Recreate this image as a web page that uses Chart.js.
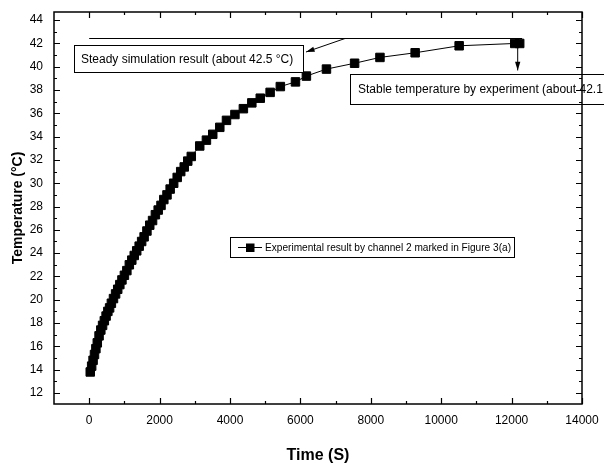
<!DOCTYPE html>
<html>
<head>
<meta charset="utf-8">
<script src="https://cdn.jsdelivr.net/npm/chart.js@4.4.1/dist/chart.umd.min.js"></script>
<style>
    html, body { margin: 0; padding: 0; background: #fff; }
    #wrap { position: relative; width: 604px; height: 473px; }
</style>
</head>
<body>
<div id="wrap"><canvas id="tempChart" width="604" height="473"></canvas></div>
<script>
// Datos
const timeS = [30, 70, 110, 150, 190, 230, 280, 330, 380, 430, 480, 530, 580, 630, 690, 750,
    810, 870, 930, 1000, 1070, 1140, 1210, 1280, 1350, 1420, 1490, 1560, 1640, 1720, 1800,
    1880, 1960, 2040, 2120, 2210, 2300, 2400, 2500, 2600, 2700, 2800, 2900,
    3140, 3330, 3510, 3710, 3900, 4140, 4380, 4620, 4860, 5140, 5430, 5860, 6170, 6740, 7540,
    8260, 9260, 10510, 12090, 12230];
const tempC = [13.8, 14.3, 14.8, 15.3, 15.8, 16.3, 16.9, 17.4, 17.8, 18.2, 18.6, 19.0, 19.3, 19.7, 20.1, 20.5,
    20.9, 21.3, 21.7, 22.1, 22.5, 23.0, 23.4, 23.8, 24.2, 24.6, 25.0, 25.4, 25.9, 26.4, 26.8,
    27.3, 27.7, 28.1, 28.6, 29.0, 29.5, 30.0, 30.5, 31.0, 31.4, 31.9, 32.3,
    33.2, 33.7, 34.2, 34.8, 35.4, 35.9, 36.4, 36.9, 37.3, 37.8, 38.3, 38.7, 39.2, 39.8, 40.3,
    40.8, 41.2, 41.8, 42.0, 42.0];

const xTickValues = [0, 2000, 4000, 6000, 8000, 10000, 12000, 14000];
const xMinorValues = [1000, 3000, 5000, 7000, 9000, 11000, 13000];
const yTickValues = [12, 14, 16, 18, 20, 22, 24, 26, 28, 30, 32, 34, 36, 38, 40, 42, 44];
const yMinorValues = [13, 15, 17, 19, 21, 23, 25, 27, 29, 31, 33, 35, 37, 39, 41, 43];

const steadySim = 42.5;
const steadyLineEnd = 12300;
const legendLabel = 'Experimental result by channel 2 marked in Figure 3(a)';
const noteSim = 'Steady simulation result (about 42.5 \u00B0C)';
const noteExp = 'Stable temperature by experiment (about 42.1 \u00B0C)';

const FONT = '"Liberation Sans", Arial, sans-serif';

function arrow(ctx, x1, y1, x2, y2) {
    const a = Math.atan2(y2 - y1, x2 - x1);
    ctx.beginPath();
    ctx.moveTo(x1, y1);
    ctx.lineTo(x2, y2);
    ctx.stroke();
    ctx.beginPath();
    ctx.moveTo(x2, y2);
    ctx.lineTo(x2 - 9 * Math.cos(a - 0.3), y2 - 9 * Math.sin(a - 0.3));
    ctx.lineTo(x2 - 9 * Math.cos(a + 0.3), y2 - 9 * Math.sin(a + 0.3));
    ctx.closePath();
    ctx.fill();
}

// Marco con marcas hacia dentro
const framePlugin = {
    id: 'frame',
    afterDraw(chart) {
        const ctx = chart.ctx;
        const a = chart.chartArea;
        const xs = chart.scales.x, ys = chart.scales.y;
        ctx.save();
        ctx.strokeStyle = '#000';
        ctx.lineWidth = 1.5;
        ctx.strokeRect(a.left, a.top, a.right - a.left, a.bottom - a.top);
        ctx.lineWidth = 1.2;
        ctx.beginPath();
        const xt = (vals, len) => vals.forEach(v => {
            const px = Math.round(xs.getPixelForValue(v)) + 0.5;
            ctx.moveTo(px, a.bottom); ctx.lineTo(px, a.bottom - len);
            ctx.moveTo(px, a.top); ctx.lineTo(px, a.top + len);
        });
        const yt = (vals, len) => vals.forEach(v => {
            const py = Math.round(ys.getPixelForValue(v)) + 0.5;
            ctx.moveTo(a.left, py); ctx.lineTo(a.left + len, py);
            ctx.moveTo(a.right, py); ctx.lineTo(a.right - len, py);
        });
        xt(xTickValues, 6); xt(xMinorValues, 3);
        yt(yTickValues, 6); yt(yMinorValues, 3);
        ctx.stroke();
        ctx.restore();
    }
};

// Anotaciones y leyenda
const notesPlugin = {
    id: 'notes',
    afterDatasetsDraw(chart) {
        const ctx = chart.ctx;
        const xs = chart.scales.x, ys = chart.scales.y;
        ctx.save();
        ctx.strokeStyle = '#000';
        ctx.fillStyle = '#000';
        ctx.lineWidth = 1;

        // línea de simulación
        const sy = Math.round(ys.getPixelForValue(steadySim)) + 0.5;
        ctx.beginPath();
        ctx.moveTo(xs.getPixelForValue(0), sy);
        ctx.lineTo(xs.getPixelForValue(steadyLineEnd), sy);
        ctx.stroke();

        ctx.font = '12px ' + FONT;
        ctx.textBaseline = 'middle';

        ctx.fillStyle = '#fff';
        ctx.fillRect(74.5, 45.5, 229, 27);
        ctx.fillStyle = '#000';
        ctx.strokeRect(74.5, 45.5, 229, 27);
        ctx.fillText(noteSim, 81, 59.5, 216);
        arrow(ctx, 345, sy, 306, 52);

        ctx.fillStyle = '#fff';
        ctx.fillRect(350.5, 74.5, 300, 30);
        ctx.fillStyle = '#000';
        ctx.strokeRect(350.5, 74.5, 300, 30);
        ctx.fillText(noteExp, 358, 90);
        const lx = xs.getPixelForValue(timeS[timeS.length - 1]) - 2;
        const ly = ys.getPixelForValue(tempC[tempC.length - 1]);
        arrow(ctx, lx, ly + 4, lx, ly + 27);

        // leyenda
        ctx.font = '11px ' + FONT;
        ctx.strokeRect(230.5, 237.5, 284, 20);
        ctx.beginPath();
        ctx.moveTo(238, 247.5);
        ctx.lineTo(262, 247.5);
        ctx.stroke();
        ctx.fillRect(246, 243.5, 8.5, 8.5);
        ctx.fillText(legendLabel, 265, 248, 246);
        ctx.restore();
    }
};

const points = timeS.map((t, i) => ({ x: t, y: tempC[i] }));

new Chart(document.getElementById('tempChart').getContext('2d'), {
    type: 'line',
    data: {
        datasets: [{
            label: legendLabel,
            data: points,
            borderColor: '#000',
            backgroundColor: '#000',
            borderWidth: 1,
            pointStyle: 'rect',
            pointRadius: 6,
            pointBackgroundColor: '#000',
            pointBorderColor: '#000',
            tension: 0
        }]
    },
    options: {
        responsive: false,
        animation: false,
        layout: { padding: { top: 12, right: 22, left: 0, bottom: 0 } },
        plugins: { legend: { display: false }, tooltip: { enabled: false } },
        scales: {
            x: {
                type: 'linear',
                min: -1000,
                max: 14000,
                afterBuildTicks: s => { s.ticks = xTickValues.map(v => ({ value: v })); },
                afterFit: s => { s.height = 69; s.paddingLeft = 0; s.paddingRight = 0; },
                grid: { display: false, drawTicks: false },
                border: { display: false },
                ticks: { color: '#000', font: { family: FONT, size: 12 }, padding: 9, maxRotation: 0,
                    autoSkip: false, callback: v => String(v) },
                title: { display: true, text: 'Time (S)', color: '#000',
                    font: { family: FONT, size: 16, weight: 'bold' }, padding: { top: 0, bottom: 8 } }
            },
            y: {
                type: 'linear',
                min: 11.05,
                max: 44.7,
                afterBuildTicks: s => { s.ticks = yTickValues.map(v => ({ value: v })); },
                afterFit: s => { s.width = 54; s.paddingTop = 0; s.paddingBottom = 0; },
                grid: { display: false, drawTicks: false },
                border: { display: false },
                ticks: { color: '#000', font: { family: FONT, size: 12 }, padding: 11, autoSkip: false,
                    callback: v => String(v) },
                title: { display: true, text: 'Temperature (\u00B0C)', color: '#000',
                    font: { family: FONT, size: 14, weight: 'bold' }, padding: { top: 10, bottom: 0 } }
            }
        }
    },
    plugins: [framePlugin, notesPlugin]
});
</script>
</body>
</html>
